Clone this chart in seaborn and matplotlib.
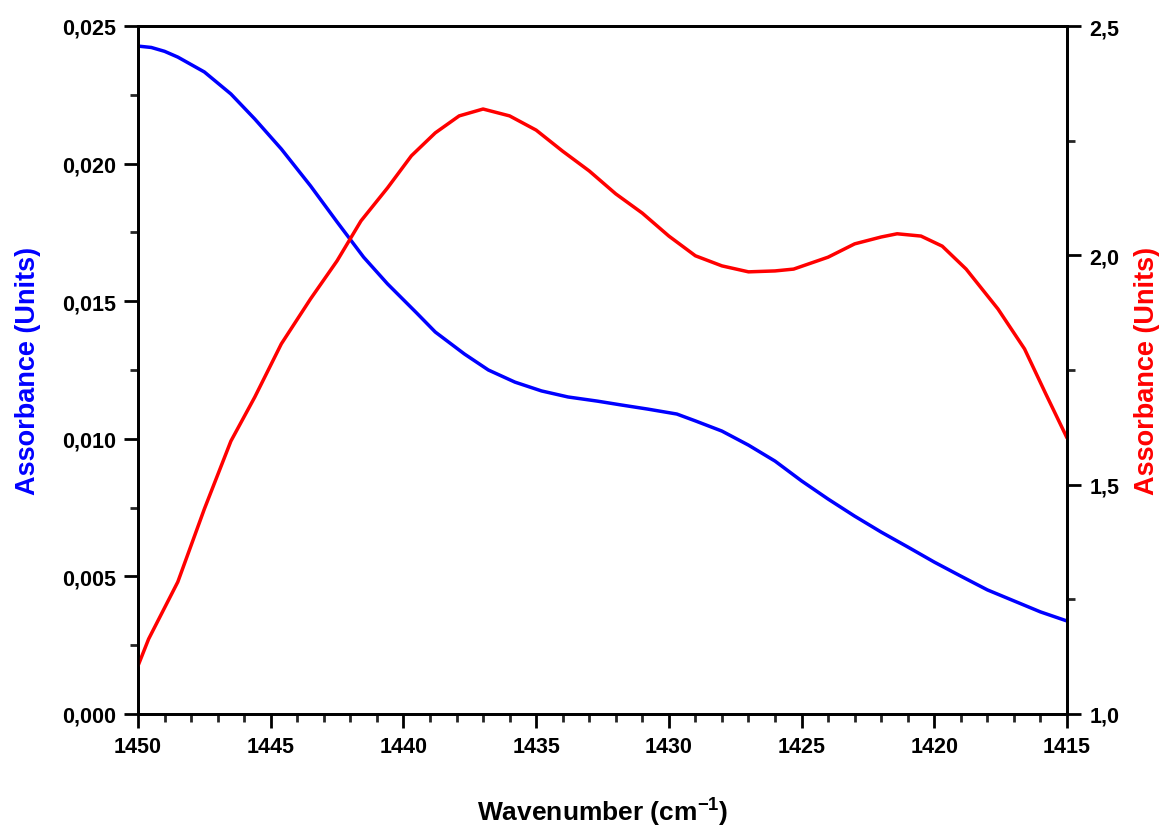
import matplotlib
matplotlib.use("Agg")
import matplotlib.pyplot as plt
import numpy as np
import pandas as pd
import seaborn as sns
from matplotlib.ticker import FuncFormatter, MultipleLocator

# blue spectrum (left axis)
wn_blue = [1450, 1449.5, 1449, 1448.5, 1447.5, 1446.5, 1445.6, 1444.6, 1443.5, 1442.5, 1441.5, 1440.6, 1439.5,
           1438.8, 1437.7, 1436.8, 1435.8, 1434.8, 1433.8, 1432.7, 1431.8, 1430.8, 1429.7, 1429, 1428,
           1427, 1426, 1425, 1424, 1423, 1422, 1421, 1420, 1419, 1418, 1417, 1416, 1415]
abs_blue = [0.02427, 0.02422, 0.02408, 0.02387, 0.02333, 0.02253, 0.02162, 0.02053, 0.01919, 0.01788, 0.0166, 0.01563, 0.01457,
            0.01388, 0.01308, 0.0125, 0.01206, 0.01174, 0.01152, 0.01137, 0.01123, 0.01108, 0.0109, 0.01065, 0.01028,
            0.00977, 0.00919, 0.00847, 0.00781, 0.00719, 0.00661, 0.00607, 0.00552, 0.00501, 0.00451, 0.00411, 0.00371, 0.00338]

# red spectrum (right axis)
wn_red = [1450, 1449.6, 1448.5, 1447.5, 1446.5, 1445.6, 1444.6, 1443.5, 1442.5, 1441.6, 1440.6, 1439.7,
          1438.8, 1437.9, 1437, 1436, 1435, 1434, 1433, 1432, 1431, 1430, 1429, 1428, 1427, 1426, 1425.3,
          1424, 1423, 1422, 1421.4, 1420.5, 1419.7, 1418.8, 1417.6, 1416.6, 1415.8, 1415]
abs_red = [1.105, 1.1635, 1.288, 1.447, 1.595, 1.691, 1.807, 1.905, 1.988, 2.075, 2.147, 2.217,
           2.267, 2.304, 2.319, 2.304, 2.273, 2.227, 2.184, 2.134, 2.092, 2.042, 1.999, 1.977, 1.964, 1.966, 1.970,
           1.996, 2.025, 2.040, 2.047, 2.042, 2.020, 1.970, 1.883, 1.796, 1.698, 1.602]

sns.set_theme(style="ticks")
plt.rcParams["font.family"] = ["Liberation Sans", "DejaVu Sans"]
plt.rcParams["font.weight"] = "bold"
plt.rcParams["text.color"] = "black"
plt.rcParams["axes.labelcolor"] = "black"
plt.rcParams["mathtext.fontset"] = "custom"
plt.rcParams["mathtext.bf"] = "Liberation Sans:bold"
plt.rcParams["mathtext.rm"] = "Liberation Sans:bold"
plt.rcParams["mathtext.default"] = "bf"

fig = plt.figure(figsize=(11.65, 8.29), dpi=100)
ax = fig.add_axes([138 / 1165, 1 - 715 / 829, 929 / 1165, 688 / 829])
ax2 = ax.twinx()

blue = pd.DataFrame({"wn": wn_blue, "a": abs_blue})
red = pd.DataFrame({"wn": wn_red, "a": abs_red})
sns.lineplot(data=blue, x="wn", y="a", ax=ax, color="#0000ff", linewidth=2.5, sort=False)
sns.lineplot(data=red, x="wn", y="a", ax=ax2, color="#ff0000", linewidth=2.5, sort=False)

ax.set_xlim(1450, 1415)
ax.set_ylim(0, 0.025)
ax2.set_ylim(1.0, 2.5)

comma = lambda fmt: FuncFormatter(lambda v, p: (fmt % v).replace(".", ","))
ax.xaxis.set_major_locator(MultipleLocator(5))
ax.xaxis.set_minor_locator(MultipleLocator(1))
ax.yaxis.set_major_locator(MultipleLocator(0.005))
ax.yaxis.set_minor_locator(MultipleLocator(0.0025))
ax.yaxis.set_major_formatter(comma("%.3f"))
ax2.yaxis.set_major_locator(MultipleLocator(0.5))
ax2.yaxis.set_minor_locator(MultipleLocator(0.25))
ax2.yaxis.set_major_formatter(comma("%.1f"))

for a in (ax, ax2):
    for s in a.spines.values():
        s.set_linewidth(2)
        s.set_color("black")
    a.tick_params(which="major", length=10, width=2, direction="out", labelsize=15.5, colors="black", pad=6)
    a.tick_params(which="minor", length=6, width=2, direction="out")
    for lbl in a.get_xticklabels() + a.get_yticklabels():
        lbl.set_fontweight("bold")

ax.set_xlabel("Wavenumber (cm$^{-1}$)", fontsize=19, fontweight="bold", color="black", labelpad=28)
ax.set_ylabel("Assorbance (Units)", fontsize=19.5, fontweight="bold", color="#0000ff", labelpad=15)
ax2.set_ylabel("Assorbance (Units)", fontsize=19.5, fontweight="bold", color="#ff0000", labelpad=11)

fig.savefig("out.png", dpi=100, facecolor="white")
